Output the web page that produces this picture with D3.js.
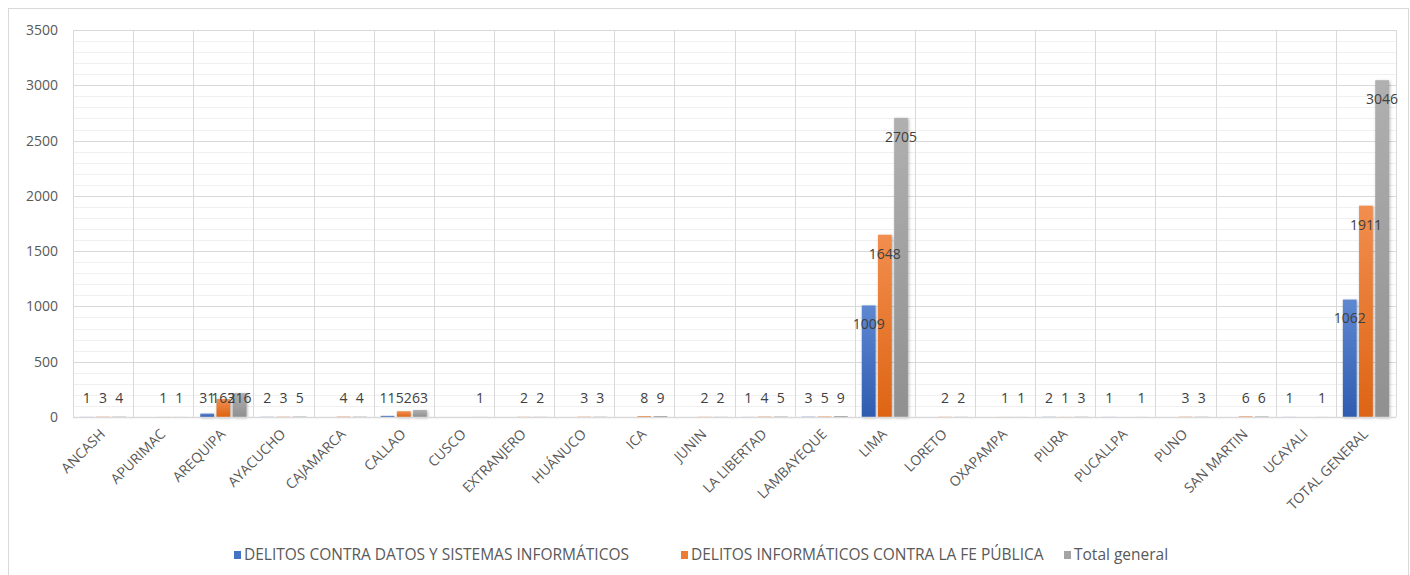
<!DOCTYPE html>
<html>
<head>
<meta charset="utf-8">
<script src="https://cdn.jsdelivr.net/npm/d3@7"></script>
<style>
  body { margin: 0; background: #fff; }
  text { font-family: "Open Sans", sans-serif; }
</style>
</head>
<body>
<div id="chart"></div>
<script>
// Categories (departamentos)
const categories = ["ANCASH", "APURIMAC", "AREQUIPA", "AYACUCHO", "CAJAMARCA", "CALLAO", "CUSCO",
  "EXTRANJERO", "HUÁNUCO", "ICA", "JUNIN", "LA LIBERTAD", "LAMBAYEQUE", "LIMA", "LORETO",
  "OXAPAMPA", "PIURA", "PUCALLPA", "PUNO", "SAN MARTIN", "UCAYALI", "TOTAL GENERAL"];

// null = no label shown in the original
const datos = [1, null, 31, 2, null, 11, null, null, null, null, null, 1, 3, 1009, null, null, 2, 1, null, null, 1, 1062];
const feP = [3, 1, 163, 3, 4, 52, null, 2, 3, 8, 2, 4, 5, 1648, 2, 1, 1, null, 3, 6, null, 1911];
const totalGen = [4, 1, 216, 5, 4, 63, 1, 2, 3, 9, 2, 5, 9, 2705, 2, 1, 3, 1, 3, 6, 1, 3046];

const seriesNames = ["DELITOS CONTRA DATOS Y SISTEMAS INFORMÁTICOS", "DELITOS INFORMÁTICOS CONTRA LA FE PÚBLICA", "Total general"];
const yTicks = [0, 500, 1000, 1500, 2000, 2500, 3000, 3500];

const seriesValues = [datos, feP, totalGen];
const colors = ["#4472C4", "#ED7D31", "#A5A5A5"];
const colorsTop = ["#5f88d2", "#f28e4e", "#b0b0b0"];
const colorsBottom = ["#2f5cb0", "#dd6414", "#909090"];

const width = 1410, height = 575;
const margin = { top: 30, right: 14, bottom: 158, left: 73 };

const svg = d3.select("#chart").append("svg")
  .attr("width", width)
  .attr("height", height);

// chart border
svg.append("rect")
  .attr("x", 8.5).attr("y", 8.5)
  .attr("width", width - 10).attr("height", height)
  .attr("fill", "none").attr("stroke", "#d9d9d9");

const defs = svg.append("defs");
colors.forEach((c, i) => {
  const g = defs.append("linearGradient").attr("id", "grad" + i)
    .attr("x1", 0).attr("y1", 0).attr("x2", 0).attr("y2", 1);
  g.append("stop").attr("offset", "0%").attr("stop-color", colorsTop[i]);
  g.append("stop").attr("offset", "100%").attr("stop-color", colorsBottom[i]);
});

const x0 = d3.scaleBand()
  .domain(categories)
  .range([margin.left, width - margin.right])
  .padding(0);

const x1 = d3.scaleBand()
  .domain([0, 1, 2])
  .range([7, x0.bandwidth() - 7])
  .paddingInner(0.15);

const y = d3.scaleLinear()
  .domain([0, 3500])
  .range([height - margin.bottom, margin.top]);

// minor gridlines
svg.append("g")
  .selectAll("line")
  .data(d3.range(100, 3500, 100).filter(v => v % 500 !== 0))
  .join("line")
  .attr("x1", margin.left).attr("x2", width - margin.right)
  .attr("y1", d => Math.round(y(d)) + 0.5).attr("y2", d => Math.round(y(d)) + 0.5)
  .attr("stroke", "#f0f0f0");

// major gridlines
svg.append("g")
  .selectAll("line")
  .data(yTicks.slice(1))
  .join("line")
  .attr("x1", margin.left).attr("x2", width - margin.right)
  .attr("y1", d => Math.round(y(d)) + 0.5).attr("y2", d => Math.round(y(d)) + 0.5)
  .attr("stroke", "#d9d9d9");

// vertical category gridlines
svg.append("g")
  .selectAll("line")
  .data(categories.map(c => x0(c)).concat([width - margin.right]))
  .join("line")
  .attr("x1", d => Math.round(d) + 0.5).attr("x2", d => Math.round(d) + 0.5)
  .attr("y1", margin.top).attr("y2", y(0))
  .attr("stroke", "#d9d9d9");

// y axis labels
const yAxis = svg.append("g")
  .attr("transform", `translate(${margin.left},0)`)
  .call(d3.axisLeft(y).tickValues(yTicks).tickFormat(d3.format("d")).tickSize(0).tickPadding(15));
yAxis.select(".domain").remove();
yAxis.selectAll("text")
  .style("font-family", "'Open Sans', sans-serif")
  .style("font-size", "14px")
  .attr("fill", "#595959");

// bars
const groups = svg.append("g")
  .selectAll("g")
  .data(categories)
  .join("g")
  .attr("transform", d => `translate(${x0(d)},0)`);

groups.selectAll("rect")
  .data((d, i) => seriesValues.map((s, k) => ({ k, v: s[i] })))
  .join("rect")
  .attr("x", d => x1(d.k))
  .attr("y", d => y(d.v || 0))
  .attr("width", x1.bandwidth())
  .attr("height", d => y(0) - y(d.v || 0))
  .attr("fill", d => `url(#grad${d.k})`)
  .style("filter", d => (y(0) - y(d.v || 0)) > 2 ? "drop-shadow(1px 1px 1.5px rgba(0,0,0,0.3))" : null);

// x axis line
svg.append("line")
  .attr("x1", margin.left).attr("x2", width - margin.right)
  .attr("y1", y(0) + 0.5).attr("y2", y(0) + 0.5)
  .attr("stroke", "#d9d9d9").attr("stroke-width", 1.5);

// data labels
groups.selectAll("text.lbl")
  .data((d, i) => seriesValues.map((s, k) => ({ k, v: s[i] })).filter(d => d.v != null))
  .join("text")
  .attr("class", "lbl")
  .attr("x", d => x1(d.k) + x1.bandwidth() / 2)
  .attr("y", d => Math.min(y(d.v) + 19, y(0) - 19))
  .attr("dy", "0.35em")
  .attr("text-anchor", "middle")
  .style("font-size", "14px")
  .attr("fill", "#404040")
  .text(d => d.v);

// x axis labels
const xAxis = svg.append("g")
  .attr("transform", `translate(0,${y(0)})`)
  .call(d3.axisBottom(x0).tickSize(0).tickPadding(0));
xAxis.select(".domain").remove();
xAxis.selectAll("text")
  .attr("text-anchor", "end")
  .attr("transform", "translate(3,18) rotate(-45)")
  .attr("y", 0).attr("dy", 0)
  .style("font-family", "'Open Sans', sans-serif")
  .style("font-size", "14px")
  .attr("fill", "#595959");

// legend
const legendX = [234, 681, 1064];
const legend = svg.append("g")
  .selectAll("g")
  .data(seriesNames)
  .join("g")
  .attr("transform", (d, i) => `translate(${legendX[i]},555)`);

legend.append("rect")
  .attr("x", 0).attr("y", -4)
  .attr("width", 7).attr("height", 8)
  .attr("fill", (d, i) => colors[i]);

legend.append("text")
  .attr("x", 10).attr("dy", "0.35em")
  .style("font-family", "'Open Sans', sans-serif")
  .style("font-size", "15.5px")
  .attr("fill", "#595959")
  .text(d => d);
</script>
</body>
</html>
